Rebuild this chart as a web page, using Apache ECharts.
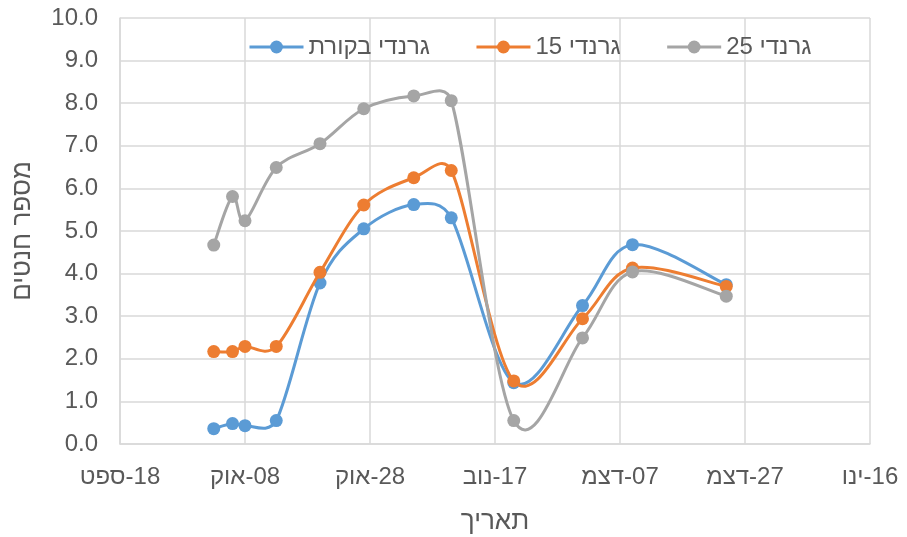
<!DOCTYPE html>
<html>
<head>
<meta charset="utf-8">
<script src="https://cdn.jsdelivr.net/npm/echarts@6/dist/echarts.min.js"></script>
<style>
  html, body { margin: 0; padding: 0; background: #ffffff; }
  #chart { position: absolute; left: 0; top: 0; width: 907px; height: 537px; }
</style>
</head>
<body>
<div id="chart" dir="rtl"></div>
<script>
// Sampling dates
const dates = ['2019-10-03', '2019-10-06', '2019-10-08', '2019-10-13', '2019-10-20', '2019-10-27',
               '2019-11-04', '2019-11-10', '2019-11-20', '2019-12-01', '2019-12-09', '2019-12-24'];

// Fruit-set counts per treatment
const controlValues = [0.36, 0.48, 0.43, 0.55, 3.78, 5.05, 5.62, 5.31, 1.44, 3.25, 4.68, 3.74];
const t15Values     = [2.17, 2.17, 2.29, 2.29, 4.03, 5.61, 6.25, 6.42, 1.48, 2.94, 4.13, 3.70];
const t25Values     = [4.67, 5.81, 5.24, 6.49, 7.05, 7.87, 8.17, 8.06, 0.55, 2.49, 4.04, 3.47];

const seriesNames = ['גרנדי בקורת', 'גרנדי 15', 'גרנדי 25'];

// Date axis: ticks every 20 days starting 18 Sep
const axisStart = '2019-09-18';
const tickLabels = ['18-ספט', '08-אוק', '28-אוק', '17-נוב', '07-דצמ', '27-דצמ', '16-ינו'];
const tickStepDays = 20;

const DAY = 86400000;
const dayOffset = d => Math.round((Date.parse(d) - Date.parse(axisStart)) / DAY);
const pairs = vals => dates.map((d, i) => [dayOffset(d), vals[i]]);

const colors = ['#5B9BD5', '#ED7D31', '#A5A5A5'];
const font = 'Liberation Sans, Arial, sans-serif';
const textColor = '#595959';
const gridColor = '#d9d9d9';

// Smoothed curve: cubic Bezier segments whose tangents follow the neighbouring
// points, with control arms capped at half of the segment length.
function curveSeries(vals, color, z) {
  const pts = pairs(vals);
  const n = pts.length;
  const dist = (a, b) => Math.hypot(b[0] - a[0], b[1] - a[1]);
  return {
    type: 'custom',
    coordinateSystem: 'cartesian2d',
    data: pts,
    encode: { x: 0, y: 1 },
    z: z,
    silent: true,
    renderItem: function (params, api) {
      const i = params.dataIndex;
      if (i >= n - 1) return null;
      const P = k => api.coord(pts[Math.max(0, Math.min(n - 1, k))]);
      const p0 = P(i - 1), p1 = P(i), p2 = P(i + 1), p3 = P(i + 2);
      const d12 = dist(p1, p2), d02 = dist(p0, p2), d13 = dist(p1, p3);
      const f = d02 > 0 ? Math.min(1 / 6, d12 / (2 * d02)) : 0;
      const g = d13 > 0 ? Math.min(1 / 6, d12 / (2 * d13)) : 0;
      return {
        type: 'bezierCurve',
        shape: {
          x1: p1[0], y1: p1[1], x2: p2[0], y2: p2[1],
          cpx1: p1[0] + (p2[0] - p0[0]) * f, cpy1: p1[1] + (p2[1] - p0[1]) * f,
          cpx2: p2[0] - (p3[0] - p1[0]) * g, cpy2: p2[1] - (p3[1] - p1[1]) * g
        },
        style: { stroke: color, lineWidth: 3, fill: 'none', lineCap: 'round' }
      };
    }
  };
}

function markerSeries(name, vals, color, z) {
  return {
    name: name,
    type: 'line',
    data: pairs(vals),
    z: z,
    symbol: 'circle',
    symbolSize: 13,
    lineStyle: { width: 3, color: color, opacity: 0 },
    itemStyle: { color: color },
    emphasis: { disabled: true }
  };
}

const valueSets = [controlValues, t15Values, t25Values];
const series = [];
valueSets.forEach((vals, k) => {
  series.push(curveSeries(vals, colors[k], 2 + 2 * k));
  series.push(markerSeries(seriesNames[k], vals, colors[k], 3 + 2 * k));
});

const chart = echarts.init(document.getElementById('chart'), null, { renderer: 'canvas' });
chart.setOption({
  animation: false,
  backgroundColor: '#ffffff',
  color: colors,
  grid: { left: 120, right: 37, top: 18, bottom: 93, containLabel: false, outerBoundsMode: 'none' },
  legend: {
    top: 30,
    left: 243,
    itemWidth: 54,
    itemHeight: 16,
    itemGap: 45,
    lineStyle: { width: 3, opacity: 1 },
    textStyle: { fontFamily: font, fontSize: 24, color: textColor },
    data: seriesNames
  },
  xAxis: {
    type: 'value',
    min: 0,
    max: tickStepDays * (tickLabels.length - 1),
    interval: tickStepDays,
    name: 'תאריך',
    nameLocation: 'middle',
    nameGap: 65,
    nameTextStyle: { fontFamily: font, fontSize: 26, color: textColor },
    axisLine: { show: true, lineStyle: { color: gridColor, width: 1.5 } },
    axisTick: { show: false },
    splitLine: { show: true, lineStyle: { color: gridColor, width: 1.5 } },
    axisLabel: {
      margin: 21,
      fontFamily: font, fontSize: 24, color: textColor,
      formatter: v => tickLabels[Math.round(v / tickStepDays)] || ''
    }
  },
  yAxis: {
    type: 'value',
    min: 0,
    max: 10,
    interval: 1,
    name: 'מספר חנטים',
    nameLocation: 'middle',
    nameRotate: 90,
    nameGap: 84,
    nameTextStyle: { fontFamily: font, fontSize: 26, color: textColor },
    axisLine: { show: true, lineStyle: { color: gridColor, width: 1.5 } },
    axisTick: { show: false },
    splitLine: { show: true, lineStyle: { color: gridColor, width: 1.5 } },
    axisLabel: {
      margin: 22,
      fontFamily: font, fontSize: 24, color: textColor,
      formatter: v => v.toFixed(1)
    }
  },
  series: series
});
</script>
</body>
</html>
